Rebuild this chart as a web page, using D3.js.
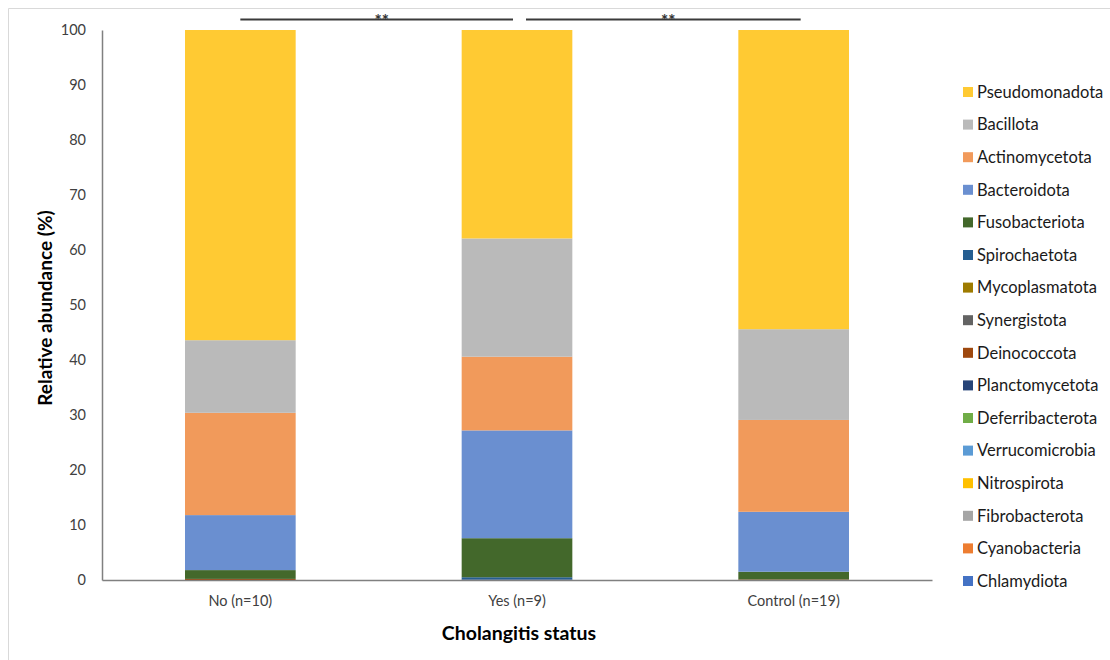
<!DOCTYPE html>
<html><head><meta charset="utf-8">
<script src="https://cdn.jsdelivr.net/npm/d3@7"></script>
<style>body{margin:0;background:#fff}svg{display:block}text{font-family:Lato,"Open Sans",sans-serif}</style>
</head><body><svg id="c" width="1110" height="660"></svg>
<script>
const groups = ["No (n=10)", "Yes (n=9)", "Control (n=19)"];
const phyla = ["Pseudomonadota","Bacillota","Actinomycetota","Bacteroidota","Fusobacteriota","Spirochaetota","Mycoplasmatota","Synergistota","Deinococcota","Planctomycetota","Deferribacterota","Verrucomicrobia","Nitrospirota","Fibrobacterota","Cyanobacteria","Chlamydiota"];
const colors = ["#FFCA33","#BABABA","#F19A5B","#6A8FD0","#43682B","#255E91","#9E7B00","#636363","#9E480E","#264478","#70AD47","#5B9BD5","#FFC000","#A5A5A5","#ED7D31","#4472C4"];
// values per phylum, order = groups
const Pseudomonadota   = [56.4, 37.9, 54.4];
const Bacillota        = [13.2, 21.5, 16.5];
const Actinomycetota   = [18.6, 13.4, 16.7];
const Bacteroidota     = [10.0, 19.6, 10.9];
const Fusobacteriota   = [1.6, 7.1, 1.4];
const Spirochaetota    = [0.0, 0.4, 0.0];
const Mycoplasmatota   = [0.0, 0.0, 0.0];
const Synergistota     = [0.0, 0.0, 0.0];
const Deinococcota     = [0.2, 0.0, 0.1];
const Planctomycetota  = [0.0, 0.1, 0.0];
const Deferribacterota = [0.0, 0.0, 0.0];
const Verrucomicrobia  = [0.0, 0.0, 0.0];
const Nitrospirota     = [0.0, 0.0, 0.0];
const Fibrobacterota   = [0.0, 0.0, 0.0];
const Cyanobacteria    = [0.0, 0.0, 0.0];
const Chlamydiota      = [0.0, 0.0, 0.0];
const yTicks = [0,10,20,30,40,50,60,70,80,90,100];
const comparisons = [["No (n=10)","Yes (n=9)","**"],["Yes (n=9)","Control (n=19)","**"]];

const valuesByPhylum = {Pseudomonadota,Bacillota,Actinomycetota,Bacteroidota,Fusobacteriota,Spirochaetota,Mycoplasmatota,Synergistota,Deinococcota,Planctomycetota,Deferribacterota,Verrucomicrobia,Nitrospirota,Fibrobacterota,Cyanobacteria,Chlamydiota};
const table = groups.map((g,i)=>{const r={group:g}; phyla.forEach(p=>r[p]=valuesByPhylum[p][i]); return r;});
// stack from bottom: Chlamydiota... Pseudomonadota on top
const stackKeys = phyla.slice().reverse();
const series = d3.stack().keys(stackKeys)(table);

const svg = d3.select("#c");
const color = d3.scaleOrdinal().domain(phyla).range(colors);
const x = d3.scaleBand().domain(groups).range([102, 932]).paddingInner(0.6).paddingOuter(0.3);
const y = d3.scaleLinear().domain([0,100]).range([580, 30]);

// frame lines (top/left)
svg.append("line").attr("x1",8.5).attr("x2",1110).attr("y1",8.5).attr("y2",8.5).attr("stroke","#d9d9d9");
svg.append("line").attr("x1",8.5).attr("x2",8.5).attr("y1",8.5).attr("y2",660).attr("stroke","#d9d9d9");

// bars
svg.append("g").selectAll("g").data(series).join("g").attr("fill",d=>color(d.key))
  .selectAll("rect").data(d=>d).join("rect")
  .attr("x",d=>x(d.data.group)).attr("width",x.bandwidth())
  .attr("y",d=>y(d[1])).attr("height",d=>Math.max(0,y(d[0])-y(d[1])));

// y axis
const ya = svg.append("g").attr("transform","translate(102,0)")
  .call(d3.axisLeft(y).tickValues(yTicks).tickSize(0).tickPadding(16));
ya.select(".domain").attr("stroke","#808080").attr("stroke-width",1.5);
ya.selectAll("text").attr("font-size",14.5).attr("fill","#404040").style("font-family","Lato,sans-serif");

// x axis
const xa = svg.append("g").attr("transform","translate(0,580)")
  .call(d3.axisBottom(x).tickSize(0).tickPadding(16));
xa.select(".domain").attr("stroke","#808080").attr("stroke-width",1.5);
xa.selectAll("text").attr("font-size",14.5).attr("fill","#404040").style("font-family","Lato,sans-serif");

// axis titles
svg.append("text").attr("transform","translate(52,308) rotate(-90)").attr("text-anchor","middle")
  .attr("font-size",19).attr("font-weight","bold").attr("fill","#000").text("Relative abundance (%)");
svg.append("text").attr("x",519).attr("y",640).attr("text-anchor","middle")
  .attr("font-size",19.5).attr("font-weight","bold").attr("fill","#000").text("Cholangitis status");

// significance brackets
const sig = svg.append("g");
comparisons.forEach(([a,b,lab],i)=>{
  const x1 = x(a)+x.bandwidth()/2 + (i===0?0:9);
  const x2 = x(b)+x.bandwidth()/2 + (i===0?-4:7);
  sig.append("line").attr("x1",x1).attr("x2",x2).attr("y1",19.5).attr("y2",19.5).attr("stroke","#3a3a3a").attr("stroke-width",2);
  sig.append("text").attr("x",(x1+x2)/2+5).attr("y",27).attr("text-anchor","middle").attr("font-size",17).attr("font-weight","bold").attr("fill","#333").text(lab);
});

// legend
const leg = svg.append("g").selectAll("g").data(phyla).join("g")
  .attr("transform",(d,i)=>`translate(963,${92 + i*32.6})`);
leg.append("rect").attr("x",0).attr("y",-5).attr("width",10).attr("height",10).attr("fill",d=>color(d));
leg.append("text").attr("x",14).attr("y",0).attr("dy","0.35em").attr("font-size",16.5).attr("fill","#1a1a1a").text(d=>d);
</script></body></html>
